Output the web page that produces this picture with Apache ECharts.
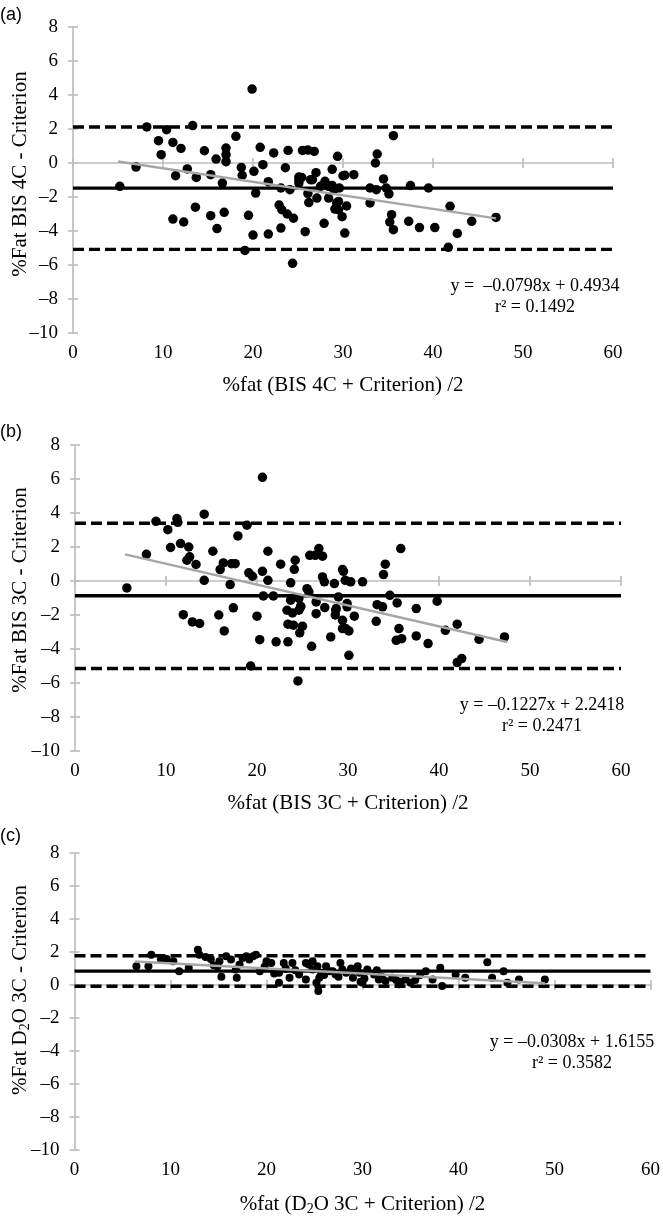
<!DOCTYPE html>
<html>
<head>
<meta charset="utf-8">
<script src="https://cdn.jsdelivr.net/npm/echarts@6/dist/echarts.min.js"></script>
<style>html,body{margin:0;padding:0;background:#fff}#c{width:663px;height:1217px}</style>
</head>
<body>
<div id="c"></div>
<script>
// ---------- data ----------
const xTicks = [0, 10, 20, 30, 40, 50, 60];
const yTicks = [-10, -8, -6, -4, -2, 0, 2, 4, 6, 8];

const pointsA = [
[5.2,-1.37],[7.0,-0.24],[8.2,2.12],[9.5,1.31],[9.8,0.49],[10.4,1.96],[11.1,1.21],[12.0,0.86],[11.4,-0.75],[12.7,-0.35],
[13.7,-0.85],[13.3,2.2],[14.6,0.72],[15.3,-0.69],[15.9,0.23],[17.0,0.88],[17.0,0.49],[17.0,0.08],[18.1,1.57],[16.6,-1.18],
[18.7,-0.26],[18.8,-0.73],[20.1,-0.49],[20.8,0.92],[21.1,-0.1],[19.9,4.35],[20.3,-1.77],[21.7,-1.1],[22.3,0.59],[23.6,-0.28],
[23.9,0.74],[25.5,0.74],[26.1,0.76],[26.8,0.68],[29.4,0.39],
[13.6,-2.6],[11.1,-3.3],[12.3,-3.47],[15.3,-3.1],[16.8,-2.9],[16.0,-3.86],[19.5,-3.08],[20.0,-4.24],[21.7,-4.18],[23.1,-3.83],
[19.1,-5.14],[24.4,-5.9],[22.9,-2.47],[23.2,-2.75],[23.8,-3.0],[24.5,-3.25],[25.8,-4.04],[27.9,-3.55],[30.2,-4.12],
[23.1,-1.47],[24.1,-1.57],[25.1,-0.83],[25.1,-0.98],[25.1,-1.18],[25.4,-0.85],[26.4,-0.98],[27.0,-0.57],[27.5,-1.37],[26.1,-1.8],
[26.2,-2.33],[27.1,-2.06],[28.0,-1.08],[28.8,-0.37],[28.4,-1.37],[28.8,-1.33],[29.0,-1.57],[29.6,-1.47],[28.4,-2.06],[29.5,-2.26],
[29.1,-2.71],[29.3,-2.35],[29.5,-2.75],[29.9,-3.16],[30.2,-0.72],[30.4,-2.53],[30.0,-0.75],[31.2,-0.69],[26.6,-0.98],
[33.8,0.53],[33.6,0.0],[35.6,1.61],[33.0,-1.47],[33.7,-1.57],[33.0,-2.35],[34.5,-0.94],[35.1,-1.82],[34.8,-1.47],[37.5,-1.33],
[39.5,-1.47],[35.4,-3.04],[35.2,-3.47],[35.6,-3.92],[37.3,-3.43],[38.5,-3.8],[40.2,-3.8],[41.9,-2.55],[42.7,-4.14],[44.3,-3.43],
[47.0,-3.2],[41.7,-4.96]
];
const pointsB = [
[5.7,-0.41],[7.85,1.57],[8.9,3.51],[10.2,3.02],[11.2,3.67],[11.3,3.45],[14.2,3.93],[10.5,1.97],[11.6,2.2],[12.5,2.0],
[12.6,1.42],[12.3,1.22],[13.3,0.97],[15.15,1.75],[14.2,0.04],[15.95,0.67],[16.3,1.06],[17.2,1.02],[17.6,1.02],[17.05,-0.21],
[17.9,2.65],[18.9,3.28],[19.1,0.48],[19.5,0.28],[20.6,0.57],[21.2,1.75],[21.2,0.04],[22.6,0.99],[24.2,1.22],[24.1,0.69],
[23.7,-0.11],[25.8,1.51],[26.4,1.51],[26.8,1.91],[27.2,1.46],[20.7,-0.88],[21.8,-0.88],[25.5,-0.45],[25.7,-0.64],[23.7,-1.13],
[24.6,-1.03],[26.5,-1.23],[27.2,0.24],[27.4,-0.05],[28.5,-0.15],[29.4,0.67],[29.5,0.57],[28.95,-0.94],[17.4,-1.58],[15.8,-2.0],
[20.0,-2.07],[11.9,-1.98],[12.9,-2.41],[13.7,-2.5],[16.4,-2.94],[20.3,-3.45],[22.1,-3.58],[23.4,-3.58],[23.3,-1.72],[23.9,-1.88],
[24.8,-1.52],[24.6,-1.72],[23.4,-2.54],[24.0,-2.6],[25.0,-2.66],[24.7,-3.05],[26.0,-3.84],[26.5,-1.92],[27.45,-1.56],[28.65,-1.72],
[28.6,-2.0],[29.4,-2.31],[29.4,-2.8],[28.1,-3.29],[30.1,-4.37],[19.3,-5.0],[24.5,-5.88],[20.6,6.1],[29.75,-2.8],[29.7,0.04],
[30.3,-0.05],[31.6,-0.05],[24.8,-1.49],[28.7,-1.62],[29.9,-1.33],[29.9,-1.52],[30.1,-2.94],[30.7,-2.07],[34.1,0.99],[33.9,0.38],
[35.8,1.91],[34.6,-0.84],[35.4,-1.29],[33.2,-1.39],[33.8,-1.52],[33.1,-2.37],[35.6,-2.8],[35.3,-3.49],[35.9,-3.39],[37.5,-1.62],
[37.5,-3.23],[38.8,-3.68],[39.8,-1.19],[40.7,-2.9],[42.0,-2.54],[44.4,-3.43],[47.2,-3.29],[42.0,-4.8],[42.5,-4.56]
];
const pointsC = [
[6.45,1.14],[8.0,1.84],[7.7,1.14],[9.0,1.54],[9.6,1.58],[10.3,1.44],[10.9,0.84],[12.85,2.14],[13.0,1.84],[13.65,1.7],
[14.2,1.58],[15.1,1.44],[15.3,0.5],[14.9,1.14],[15.8,1.74],[16.3,1.54],[16.8,0.94],[16.9,0.44],[17.5,1.64],[17.9,1.74],
[18.2,1.54],[18.6,1.74],[18.9,1.84],[19.3,0.84],[20.0,1.44],[20.5,1.34],[21.3,0.74],[21.3,0.14],[21.8,1.34],[22.4,0.44],
[22.7,1.34],[23.4,0.64],[24.1,0.34],[24.4,1.24],[24.8,0.94],[25.2,0.14],[25.5,0.44],[26.2,1.14],[26.9,0.84],[27.7,1.34],
[27.9,0.94],[25.4,-0.36],[24.1,1.34],[24.8,1.44],[25.3,1.14],[25.7,0.74],[26.6,0.84],[27.2,0.64],[28.3,0.74],[29.0,0.44],
[29.5,1.14],[30.0,0.14],[29.7,0.74],[30.5,0.94],[31.2,0.64],[31.7,0.34],[32.4,0.24],[33.1,0.44],[33.8,0.04],[34.5,0.34],
[35.0,0.14],[36.6,0.84],[37.3,0.34],[38.1,1.04],[38.3,-0.06],[39.7,0.64],[40.7,0.44],[43.0,1.38],[43.5,0.44],[44.7,0.84],
[45.1,0.14],[46.3,0.34],[49.0,0.34],[11.9,1.05],[14.5,1.2],[17.2,1.25],[19.8,1.1],[20.8,0.7],[22.0,1.0],[23.0,0.9],
[26.0,0.6],[27.5,0.5],[28.8,1.0],[30.2,0.4],[31.5,0.9],[32.0,0.5],[34.0,0.2],[35.5,0.3],[36.0,0.6],[29.8,0.2],[33.5,0.3]
];

// mean bias and limits of agreement
const meanA = -1.48, upperA = 2.12, lowerA = -5.08;
const meanB = -0.87, upperB = 3.40, lowerB = -5.15;
const meanC = 0.84,  upperC = 1.77, lowerC = -0.08;

// regression endpoints
const regA = [[5.0, 0.094], [47.0, -3.257]];
const regB = [[5.5, 1.567], [47.5, -3.586]];
const regC = [[6.3, 1.421], [49.0, 0.106]];

const eqA = ['y =  –0.0798x + 0.4934', 'r² = 0.1492'];
const eqB = ['y = –0.1227x + 2.2418', 'r² = 0.2471'];
const eqC = ['y = –0.0308x + 1.6155', 'r² = 0.3582'];

// ---------- layout ----------
const SERIF = 'Liberation Serif';
const grids = [
  {left: 73, top: 27, width: 540, height: 306},
  {left: 75, top: 445, width: 546, height: 306},
  {left: 74.5, top: 853, width: 578, height: 300}
];
const panels = [
  {tag: '(a)', tagY: 15, yName: '%Fat BIS 4C - Criterion', yNameY: 174, xName: '%fat (BIS 4C + Criterion) /2',
   pts: pointsA, size: 9.5, mean: meanA, up: upperA, lo: lowerA, reg: regA, eq: eqA, eqX: 535, eqY: 286},
  {tag: '(b)', tagY: 432, yName: '%Fat BIS 3C - Criterion', yNameY: 590, xName: '%fat (BIS 3C + Criterion) /2',
   pts: pointsB, size: 9.5, mean: meanB, up: upperB, lo: lowerB, reg: regB, eq: eqB, eqX: 542, eqY: 705},
  {tag: '(c)', tagY: 836, yName: '%Fat D{s|2}O 3C - Criterion', yNameY: 990, xName: '%fat (D{s|2}O 3C + Criterion) /2',
   pts: pointsC, size: 8, mean: meanC, up: upperC, lo: lowerC, reg: regC, eq: eqC, eqX: 572, eqY: 1042}
];

const GRAY = '#bfbfbf';
const minus = v => String(v).replace('-', '–');
const richSub = {s: {fontFamily: SERIF, fontSize: 14, padding: [10, 0, 0, 0], color: '#000'}};

const option = {
  animation: false,
  backgroundColor: '#fff',
  grid: grids.map(g => Object.assign({containLabel: false}, g)),
  xAxis: [], yAxis: [], series: [], graphic: []
};

panels.forEach((p, i) => {
  const yi0 = option.yAxis.length;
  option.yAxis.push({
    gridIndex: i, type: 'value', min: -10, max: 8, interval: 2, position: 'left',
    axisLine: {show: true, onZero: false, lineStyle: {color: GRAY, width: 1.7}},
    axisTick: {show: true, inside: false, length: 5, lineStyle: {color: GRAY, width: 1.7}},
    axisLabel: {fontFamily: SERIF, fontSize: 19, color: '#000', margin: 15, formatter: minus},
    splitLine: {show: false}
  });
  option.yAxis.push({
    gridIndex: i, type: 'value', min: -10, max: 8, interval: 2, position: 'left',
    axisLine: {show: false, onZero: false},
    axisTick: {show: true, inside: true, length: 5, lineStyle: {color: GRAY, width: 1.7}},
    axisLabel: {show: false}, splitLine: {show: false}
  });
  const xi0 = option.xAxis.length;
  option.xAxis.push({
    gridIndex: i, type: 'value', min: 0, max: 60, interval: 10, position: 'bottom',
    axisLine: {show: false, onZero: false}, axisTick: {show: false}, splitLine: {show: false},
    axisLabel: {fontFamily: SERIF, fontSize: 19, color: '#000', margin: 11},
    name: p.xName, nameLocation: 'middle', nameGap: 42,
    nameTextStyle: {fontFamily: SERIF, fontSize: 21, color: '#000', rich: richSub}
  });
  option.xAxis.push({
    gridIndex: i, type: 'value', min: 0, max: 60, interval: 10, position: 'bottom',
    axisLine: {show: true, onZero: true, onZeroAxisIndex: yi0, lineStyle: {color: GRAY, width: 1.7}},
    axisTick: {show: true, inside: true, length: 5, lineStyle: {color: GRAY, width: 1.7}},
    axisLabel: {show: false}, splitLine: {show: false}
  });
  option.xAxis.push({
    gridIndex: i, type: 'value', min: 0, max: 60, interval: 10, position: 'bottom',
    axisLine: {show: false, onZero: true, onZeroAxisIndex: yi0 + 1},
    axisTick: {show: true, inside: false, length: 5, lineStyle: {color: GRAY, width: 1.7}},
    axisLabel: {show: false}, splitLine: {show: false}
  });

  const hline = (v, type) => ({
    type: 'line', xAxisIndex: xi0, yAxisIndex: yi0, data: [[0, v], [60, v]],
    symbol: 'none', silent: true, z: 3,
    lineStyle: {color: '#000', width: 3.4, type: type}
  });
  option.series.push(hline(p.up, [11, 5]));
  option.series.push(hline(p.lo, [11, 5]));
  option.series.push(hline(p.mean, 'solid'));
  option.series.push({
    type: 'scatter', xAxisIndex: xi0, yAxisIndex: yi0, data: p.pts,
    symbol: 'circle', symbolSize: p.size, itemStyle: {color: '#000', opacity: 1}, z: 4
  });
  option.series.push({
    type: 'line', xAxisIndex: xi0, yAxisIndex: yi0, data: p.reg, symbol: 'none', z: 5,
    lineStyle: {color: '#a6a6a6', width: 2.5}
  });

  option.graphic.push({
    type: 'text', x: 0, y: p.tagY,
    style: {text: p.tag, font: '18px "Liberation Sans"', fill: '#000', textVerticalAlign: 'middle'}
  });
  option.graphic.push({
    type: 'text', x: 20, y: p.yNameY, rotation: Math.PI / 2,
    style: {text: p.yName, fontFamily: SERIF, fontSize: 21, fill: '#000',
            textAlign: 'center', textVerticalAlign: 'middle', rich: richSub}
  });
  option.graphic.push({
    type: 'text', x: p.eqX, y: p.eqY - 10,
    style: {text: p.eq.join('\n'), font: '18px "Liberation Serif"', fill: '#000',
            textAlign: 'center', textVerticalAlign: 'top', lineHeight: 21}
  });
});

const chart = echarts.init(document.getElementById('c'), null, {renderer: 'canvas'});
chart.setOption(option);
</script>
</body>
</html>
